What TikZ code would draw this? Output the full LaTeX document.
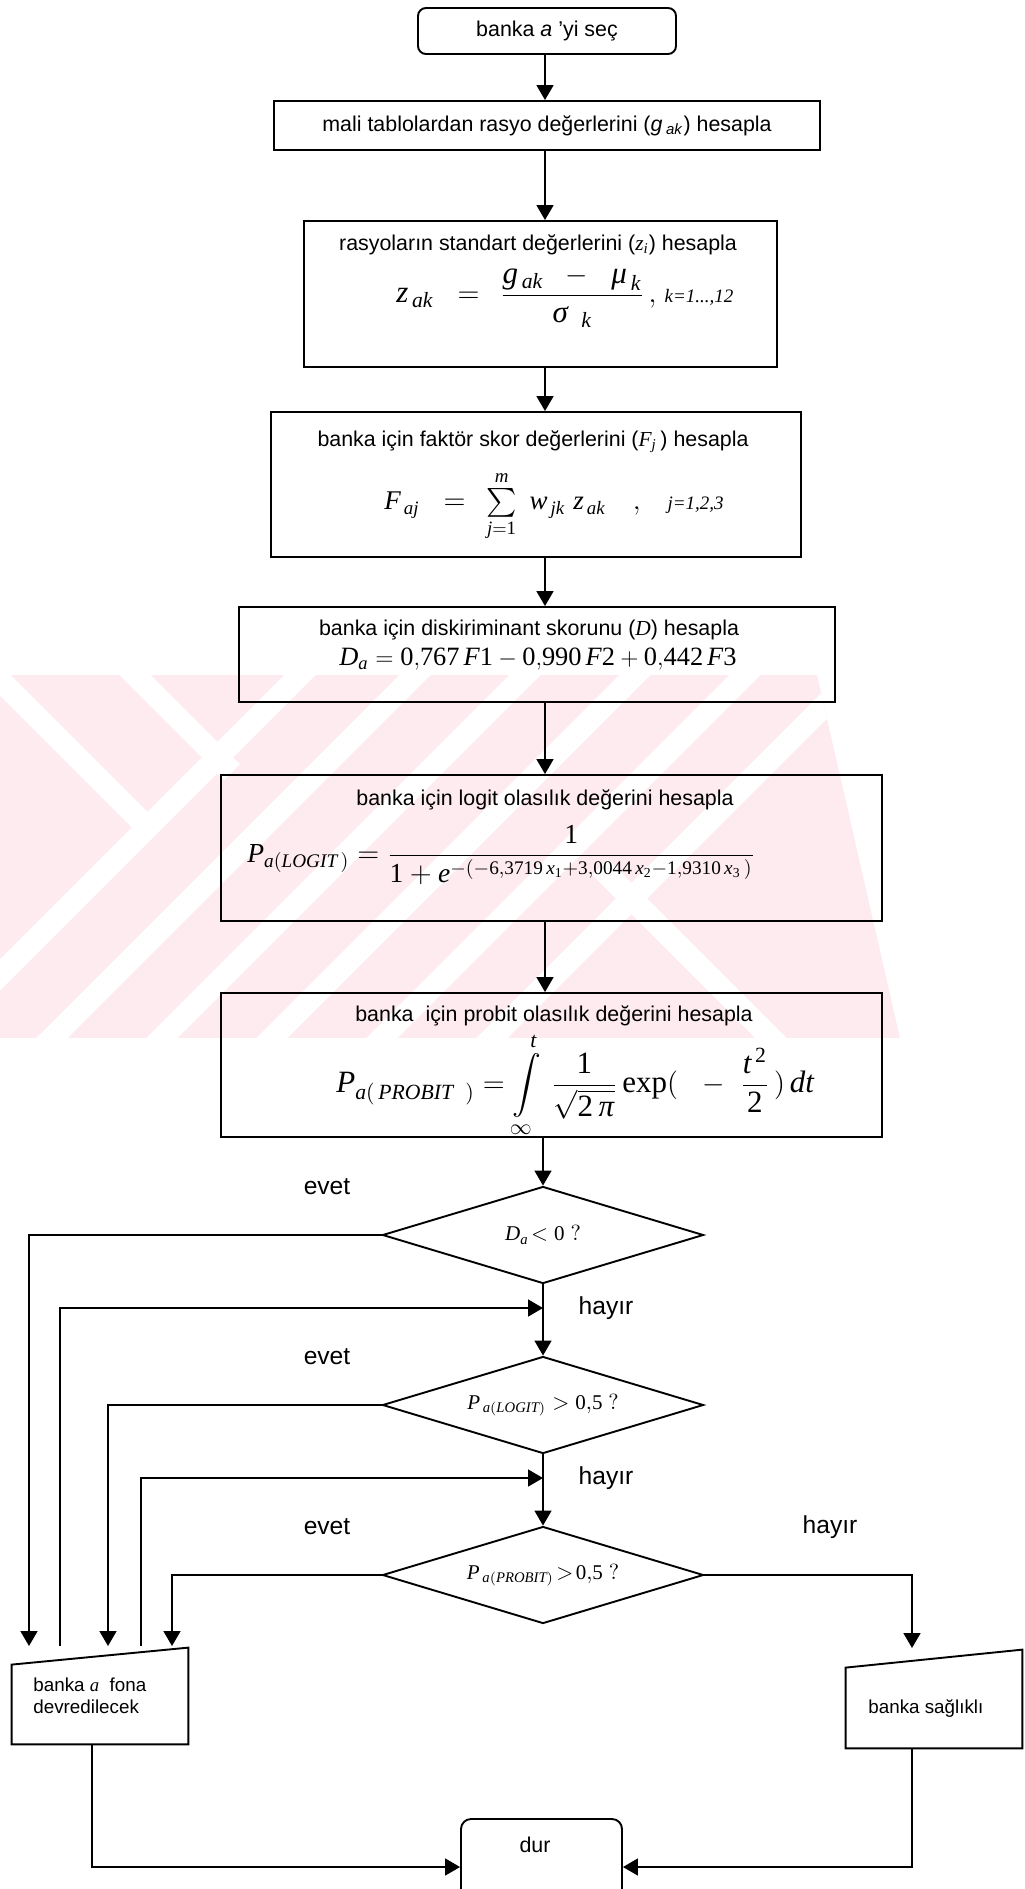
\documentclass[tikz,border=0pt]{standalone}
\usepackage{amsmath}
\usepackage{exscale}
\usepackage{mathspec}
\setmainfont{Liberation Sans}
\setmathsfont(Digits,Latin,Greek){Liberation Serif}
\setmathrm{Liberation Serif}
\newfontfamily\tnr{Liberation Serif}
\usetikzlibrary{shapes.geometric,arrows.meta,calc}

\definecolor{wmpink}{RGB}{253,235,239}

\tikzset{
  outline/.style={draw=black, line width=0.95pt},
  procbox/.style={outline, rectangle, inner sep=0pt},
  termbox/.style={outline, rectangle, rounded corners=4pt, inner sep=0pt},
  decision/.style={outline, diamond, aspect=3.3, inner sep=0pt, minimum width=160.5pt,
    minimum height=48.5pt, font=\fontsize{10.5}{12}\selectfont},
  lbl/.style={inner sep=0pt, font=\fontsize{10.7}{12.8}\selectfont},
  smalltext/.style={inner sep=0pt, font=\fontsize{9.4}{11}\selectfont},
  answer/.style={inner sep=0pt, font=\fontsize{12.3}{14}\selectfont},
  eqn/.style={inner sep=0pt, anchor=west, font=\fontsize{13.75}{16.5}\selectfont},
  flow/.style={line width=0.8pt, -{Triangle[length=7.5pt,width=8.5pt]}},
  wmstripe/.style={white, line width=11pt},
}

\begin{document}
\begin{tikzpicture}[x=0.5pt,y=-0.5pt]
\useasboundingbox (0,0) rectangle (1024,1889);
\clip (0,0) rectangle (1024,1889);

% pale background emblem
\begin{scope}
  \clip (0,675) -- (817,675) -- (900,1038) -- (0,1038) -- cycle;
  \fill[wmpink] (0,675) rectangle (1024,1038);
  \foreach \c in {975,1090,1200,1310,1420,1530}
    \draw[wmstripe] (\c-655,655) -- (\c-1058,1058);
  \draw[wmstripe] (-30,650) -- (150,830);
  \draw[wmstripe] (110,650) -- (232,772);
  \draw[wmstripe] (600,867) -- (790,1057);
\end{scope}

\coordinate (spine) at (545,0);

% process boxes
\node[termbox, lbl, minimum width=129pt, minimum height=23pt] (start) at (547,31)
  {banka \textit{a} ’yi seç};

\node[procbox, lbl, minimum width=273pt, minimum height=24.5pt] (ratio) at (547,125.5)
  {mali tablolardan rasyo değerlerini (\textit{g}\,\textsubscript{\textit{ak}}) hesapla};

\node[procbox, minimum width=236.5pt, minimum height=73pt] (zbox) at (540.5,294) {};
\node[lbl] (zT) at (538,245) {rasyoların standart değerlerini ($z_i$) hesapla};
\node[eqn, font=\fontsize{15.5}{18}\selectfont] (zF) at (396,297)
  {$z_{\,ak} \;\;=\;\, \dfrac{g_{\,ak} \;\;-\;\; \mu_{\,k}}{\sigma_{\;\;k}}\,,\;$%
   {\tnr\itshape\fontsize{9.5}{11}\selectfont k=1...,12}};

\node[procbox, minimum width=265pt, minimum height=72.5pt] (fbox) at (536,484.5) {};
\node[lbl] (fT) at (533,442) {banka için faktör skor değerlerini ($F_j$\,) hesapla};
\node[eqn, font=\fontsize{13.5}{16}\selectfont] (fF) at (384,506)
  {$F_{\,aj} \;\;=\;\, \textstyle\sum\limits_{j=1}^{m}\; w_{\,jk}\; z_{\,ak} \quad,\quad$%
   {\tnr\itshape\fontsize{9.5}{11}\selectfont j=1,2,3}};

\node[procbox, minimum width=298pt, minimum height=47.5pt] (dbox) at (537,654.5) {};
\node[lbl] (dT) at (529,630) {banka için diskiriminant skorunu ($D$) hesapla};
\node[eqn, font=\fontsize{13.2}{16}\selectfont] (dF) at (339,659)
  {$D_{a} = 0{,}767\,F1 - 0{,}990\,F2 + 0{,}442\,F3$};

\node[procbox, minimum width=330.5pt, minimum height=73pt] (lbox) at (551.5,848) {};
\node[lbl] (lT) at (545,800) {banka için logit olasılık değerini hesapla};
\node[eqn] (lF) at (247,855)
  {$P_{a(LOGIT\,)} = \dfrac{1}{1+e^{-(-6{,}3719\,x_{1}+3{,}0044\,x_{2}-1{,}9310\,x_{3}\,)}}$};

\node[procbox, minimum width=330.5pt, minimum height=72pt] (pbox) at (551.5,1065) {};
\node[lbl] (pT) at (554,1016) {banka\ \ için probit olasılık değerini hesapla};
\node[eqn, font=\fontsize{15.5}{18}\selectfont] (pF) at (336,1085)
  {$P_{a(\,PROBIT\;\;)} = \displaystyle\int\limits_{\infty}^{t}\,\dfrac{1}{\sqrt{2\,\pi}}\,
   \mathrm{exp}(\;\;\;-\;\;\dfrac{t^{\,2}}{2}\,)\,dt$};

% decisions
\node[decision] (q1) at (543,1235) {$D_{a}\!<0\ ?$};
\node[decision] (q2) at (543,1405) {$P_{\,a(LOGIT)}>0{,}5\ ?$};
\node[decision] (q3) at (543,1575) {$P_{\,a(PROBIT)}\!>\!0{,}5\ ?$};

\node[answer] (yes1) at (327,1187) {evet};
\node[answer] (yes2) at (327,1357) {evet};
\node[answer] (yes3) at (327,1527) {evet};
\node[answer] (no1) at (606,1308) {hayır};
\node[answer] (no2) at (606,1478) {hayır};
\node[answer] (no3) at (830,1527) {hayır};

% outcome boxes (manual-input outline)
\node[inner sep=0pt, minimum width=88pt, minimum height=48pt] (fund) at (100,1696) {};
\draw[outline] ([yshift=-8.5pt]fund.north west) -- (fund.north east)
  -- (fund.south east) -- (fund.south west) -- cycle;
\node[smalltext, anchor=west, align=left] (fundT) at (33,1696)
  {banka $a$\ \ fona\\devredilecek};

\node[inner sep=0pt, minimum width=88pt, minimum height=49pt] (healthy) at (934,1699) {};
\draw[outline] ([yshift=-9pt]healthy.north west) -- (healthy.north east)
  -- (healthy.south east) -- (healthy.south west) -- cycle;
\node[smalltext, anchor=west] (healthyT) at (868,1708) {banka sağlıklı};

\node[termbox, minimum width=80.5pt, minimum height=48pt, rounded corners=5pt] (stop) at (541.5,1867) {};
\node[lbl] (stopT) at (535,1845) {dur};

% connector end points
\coordinate (a1) at (29,1646);
\coordinate (a2) at (108,1646);
\coordinate (a3) at (172,1646);
\coordinate (r1) at (60,1646);
\coordinate (r2) at (141,1646);
\coordinate (a4) at (912,1648);
\coordinate (m1) at (543,1308);
\coordinate (m2) at (543,1478);

% main flow
\draw[flow] (spine |- start.south) -- (spine |- ratio.north);
\draw[flow] (spine |- ratio.south) -- (spine |- zbox.north);
\draw[flow] (spine |- zbox.south) -- (spine |- fbox.north);
\draw[flow] (spine |- fbox.south) -- (spine |- dbox.north);
\draw[flow] (spine |- dbox.south) -- (spine |- lbox.north);
\draw[flow] (spine |- lbox.south) -- (spine |- pbox.north);
\draw[flow] (q1.north |- pbox.south) -- (q1.north);
\draw[flow] (q1.south) -- (q2.north);
\draw[flow] (q2.south) -- (q3.north);

% branches
\draw[flow] (q1.west) -| (a1);
\draw[flow] (q2.west) -| (a2);
\draw[flow] (q3.west) -| (a3);
\draw[flow] (r1) |- (m1);
\draw[flow] (r2) |- (m2);
\draw[flow] (q3.east) -| (a4);

% to stop
\draw[flow] ([xshift=-4pt]fund.south) |- (stop.west);
\draw[flow] (a4 |- healthy.south) |- (stop.east);
\end{tikzpicture}
\end{document}
